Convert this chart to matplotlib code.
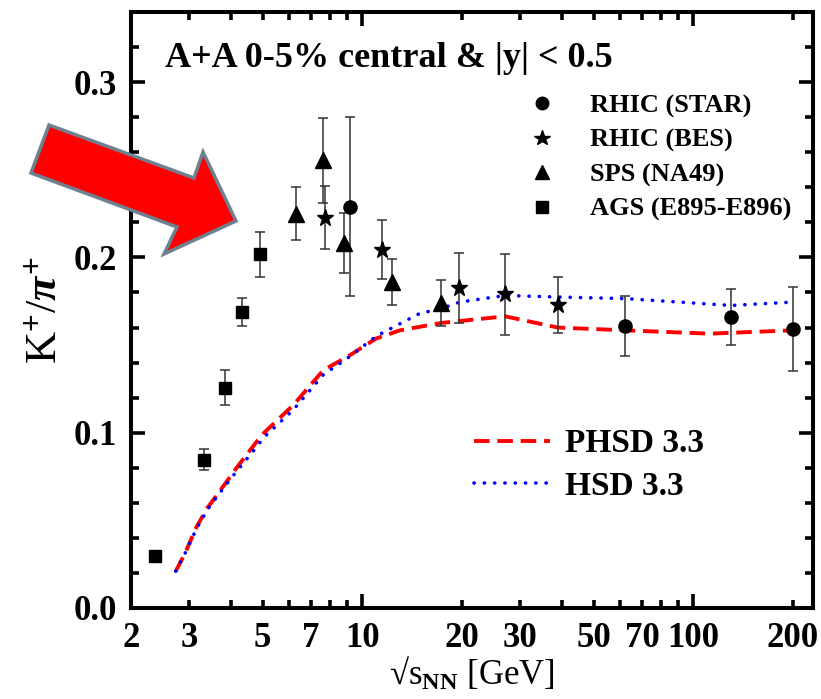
import matplotlib
matplotlib.use("Agg")
import matplotlib.pyplot as plt
from matplotlib.lines import Line2D
from matplotlib.patches import Polygon
from matplotlib.ticker import FixedLocator, NullFormatter

plt.rcParams['font.family'] = ['Liberation Serif', 'DejaVu Serif']
plt.rcParams['font.weight'] = 'bold'
plt.rcParams['mathtext.fontset'] = 'custom'
plt.rcParams['mathtext.rm'] = 'Liberation Serif:bold'
plt.rcParams['mathtext.it'] = 'Liberation Serif:bold:italic'
plt.rcParams['mathtext.bf'] = 'Liberation Serif:bold'

# RHIC (STAR)
star_x = [9.2, 62.4, 130, 200]
star_y = [0.229, 0.161, 0.166, 0.159]
star_err = [0.051, 0.017, 0.016, 0.024]

# RHIC (BES)
bes_x = [7.7, 11.5, 19.6, 27, 39]
bes_y = [0.2226, 0.2044, 0.1825, 0.1789, 0.1726]
bes_err = [0.018, 0.017, 0.020, 0.023, 0.016]

# SPS (NA49)
na49_x = [6.3, 7.6, 8.8, 12.3, 17.3]
na49_y = [0.2249, 0.2553, 0.2082, 0.186, 0.174]
na49_err = [0.015, 0.024, 0.017, 0.013, 0.013]

# AGS (E895-E896)
ags_x = [2.36, 3.33, 3.85, 4.32, 4.91]
ags_y = [0.0296, 0.0847, 0.1257, 0.1687, 0.2017]
ags_err = [0.003, 0.006, 0.010, 0.008, 0.013]

# PHSD 3.3 / HSD 3.3 model curves
phsd_x = [2.73, 2.91, 3.15, 3.40, 3.72, 4.17, 4.80, 5.02, 6.18, 7.62, 9.17,
          11.0, 13.0, 17.3, 19.7, 27, 38.9, 62.4, 112, 200]
phsd_y = [0.021, 0.031, 0.046, 0.057, 0.067, 0.080, 0.095, 0.0995, 0.1157,
          0.1356, 0.1442, 0.1537, 0.1584, 0.1626, 0.1637, 0.1664, 0.160,
          0.1584, 0.1565, 0.1584]
hsd_x = [2.73, 2.91, 3.15, 3.40, 3.72, 4.17, 4.80, 5.02, 6.18, 7.62, 9.17,
         11.0, 13.0, 14.9, 17.3, 19.7, 27, 38.9, 62.4, 130, 200]
hsd_y = [0.021, 0.031, 0.045, 0.056, 0.066, 0.078, 0.092, 0.097, 0.113,
         0.133, 0.1435, 0.155, 0.1622, 0.168, 0.1708, 0.1745, 0.1783,
         0.1774, 0.1765, 0.1726, 0.1745]

x_major = [10, 100]
x_minor = [2, 3, 4, 5, 6, 7, 8, 9, 20, 30, 40, 50, 60, 70, 80, 90, 200]
x_minor_labels = ['2', '3', '', '5', '', '7', '', '', '20', '30', '', '50',
                  '', '70', '', '', '200']

W, H = 821, 699
fig = plt.figure(figsize=(W / 100, H / 100), dpi=100)
ax = fig.add_axes([131 / W, 1 - 608 / H, (813 - 131) / W, (608 - 12) / H])

red_style = dict(color='#ff0000', lw=2.8, dashes=(4.0, 2.0))
blue_style = dict(color='#0000ff', lw=2.6, linestyle=(0, (0.05, 2.8)),
                  dash_capstyle='round')

ax.plot(phsd_x, phsd_y, zorder=2, **red_style)
ax.plot(hsd_x, hsd_y, zorder=2, **blue_style)

ekw = dict(ls='none', color='black', ecolor='#333333', elinewidth=1.1,
           capsize=3.8, capthick=1.1, zorder=3)
ax.errorbar(star_x, star_y, yerr=star_err, marker='o', ms=9.5, **ekw)
ax.errorbar(bes_x, bes_y, yerr=bes_err, marker='*', ms=12.5, **ekw)
ax.errorbar(na49_x, na49_y, yerr=na49_err, marker='^', ms=11, **ekw)
ax.errorbar(ags_x, ags_y, yerr=ags_err, marker='s', ms=9, **ekw)

ax.set_xscale('log')
ax.set_xlim(2, 230)
ax.set_ylim(0, 0.34)

ax.xaxis.set_major_locator(FixedLocator(x_major))
ax.set_xticklabels(['10', '100'])
ax.set_xticks(x_minor, minor=True)
ax.set_xticklabels(x_minor_labels, minor=True)
ax.set_yticks([0.0, 0.1, 0.2, 0.3])
ax.set_yticklabels(['0.0', '0.1', '0.2', '0.3'])
ax.set_yticks([0.02, 0.04, 0.06, 0.08, 0.12, 0.14, 0.16, 0.18, 0.22, 0.24,
               0.26, 0.28, 0.32], minor=True)
ax.yaxis.set_minor_formatter(NullFormatter())

for s in ax.spines.values():
    s.set_linewidth(2.9)
ax.tick_params(which='both', direction='in', top=True, right=True,
               labelsize=25, width=2.6, pad=10)
ax.tick_params(which='major', length=10)
ax.tick_params(which='minor', length=6)
for lab in ax.get_xticklabels(which='both') + ax.get_yticklabels():
    lab.set_fontweight('bold')

ax.set_ylabel(r'K$^{+}$/$\pi^{+}$', fontsize=32, labelpad=6)
ax.set_xlabel(r'√s$_{\mathrm{NN}}$ [GeV]', fontsize=25, labelpad=1)

ax.text(0.05, 0.922, 'A+A 0-5% central & |y| < 0.5', transform=ax.transAxes,
        fontsize=26, fontweight='bold', va='center', ha='left')

h1 = [Line2D([], [], ls='none', marker='o', color='black', ms=9),
      Line2D([], [], ls='none', marker='*', color='black', ms=11.5),
      Line2D([], [], ls='none', marker='^', color='black', ms=10.5),
      Line2D([], [], ls='none', marker='s', color='black', ms=8)]
leg1 = ax.legend(h1, ['RHIC (STAR)', 'RHIC (BES)', 'SPS (NA49)',
                      'AGS (E895-E896)'],
                 loc='upper left', bbox_to_anchor=(0.568, 0.88), frameon=False,
                 prop=dict(size=19, weight='bold'), handlelength=1.0,
                 handletextpad=1.3, labelspacing=0.4, borderaxespad=0)
ax.add_artist(leg1)

h2 = [Line2D([], [], **red_style), Line2D([], [], **blue_style)]
ax.legend(h2, ['PHSD 3.3', 'HSD 3.3'], loc='upper left',
          bbox_to_anchor=(0.483, 0.324), frameon=False,
          prop=dict(size=24, weight='bold'), handlelength=2.3,
          handletextpad=0.45, labelspacing=0.35, borderaxespad=0)

# big red arrow drawn in figure pixels
arrow_px = [(49, 125), (194, 178), (203, 152), (236, 221), (164, 254),
            (177, 227), (31, 173)]
arrow = Polygon([(x / W, 1 - y / H) for x, y in arrow_px], closed=True,
                transform=fig.transFigure, facecolor='#ff0000',
                edgecolor='#6e8190', linewidth=2.5, zorder=10)
fig.patches.append(arrow)

fig.savefig('out.png', dpi=100)
